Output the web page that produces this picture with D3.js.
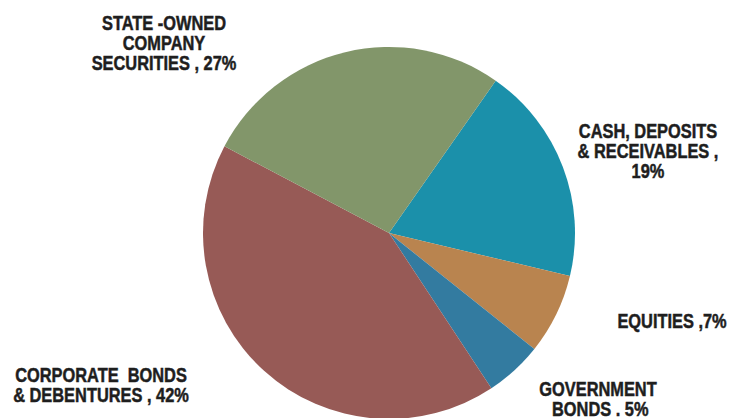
<!DOCTYPE html>
<html><head><meta charset="utf-8">
<script src="https://cdn.jsdelivr.net/npm/d3@7/dist/d3.min.js"></script>
<style>
html,body{margin:0;padding:0;background:#fff;}
text{font-family:"Liberation Sans",Arial,Helvetica,sans-serif;font-weight:bold;font-size:20px;fill:#1e1e1e;stroke:#1e1e1e;stroke-width:0.5px;}
</style></head>
<body><svg id="c" width="734" height="418"></svg>
<script>
const categories = ["CASH, DEPOSITS & RECEIVABLES", "EQUITIES", "GOVERNMENT BONDS", "CORPORATE BONDS & DEBENTURES", "STATE -OWNED COMPANY SECURITIES"];
const values = [19, 7, 5, 42, 27];
const colors = ["#1b90aa", "#b9844f", "#337ba0", "#975a56", "#82966a"];
const labelLines = [
  ["CASH, DEPOSITS", "& RECEIVABLES ,", "19%"],
  ["EQUITIES ,7%"],
  ["GOVERNMENT", " BONDS . 5%"],
  ["CORPORATE  BONDS", "& DEBENTURES , 42%"],
  ["STATE -OWNED", "COMPANY", "SECURITIES , 27%"]
];
const labelPos = [[648,137.5],[672,327.5],[598,396],[101,381.5],[164,29.5]];

const svg = d3.select("#c");
const cx = 389, cy = 233, r = 186;
const start = 35 * Math.PI / 180;
const pie = d3.pie().sort(null).value(d => d).startAngle(start).endAngle(start + 2 * Math.PI);
const arc = d3.arc().innerRadius(0).outerRadius(r);
const g = svg.append("g").attr("transform", `translate(${cx},${cy})`);
g.selectAll("path").data(pie(values)).join("path")
  .attr("d", arc).attr("fill", (d, i) => colors[i]);

labelLines.forEach((lines, i) => {
  const lg = svg.append("g")
    .attr("transform", `translate(${labelPos[i][0]},${labelPos[i][1]}) scale(0.82,1)`);
  const t = lg.append("text").attr("text-anchor", "middle").attr("x", 0).attr("y", 0);
  lines.forEach((l, j) => {
    t.append("tspan").attr("x", 0).attr("dy", j === 0 ? 0 : 20.5)
      .attr("xml:space", "preserve").style("white-space", "pre").text(l);
  });
});
</script></body></html>
